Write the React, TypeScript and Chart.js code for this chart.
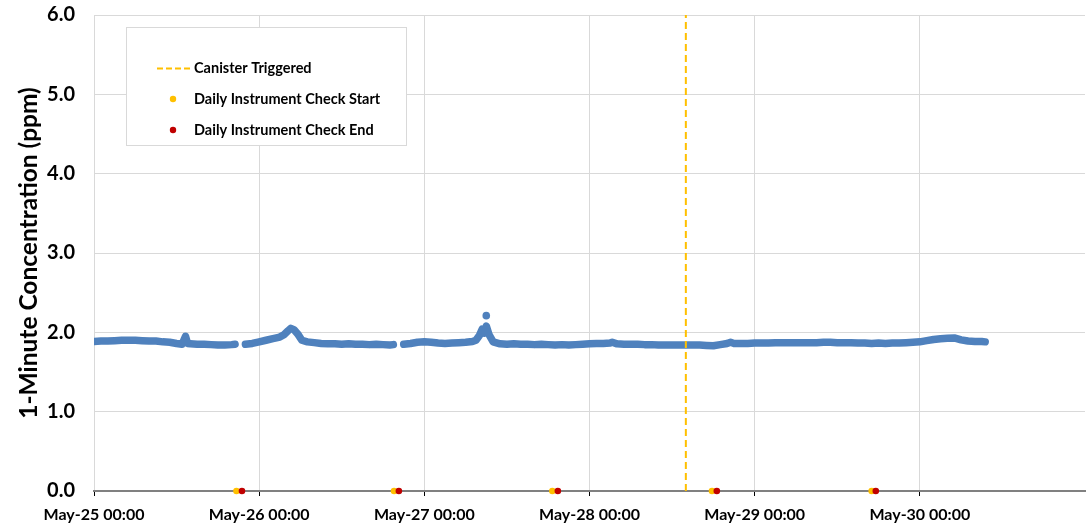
import React, { useEffect, useRef } from 'react';
import Chart from 'chart.js/auto';

// 1-minute concentration trace, sampled as hours since May-25 00:00 (null = data break)
const hours = [
  0, 1, 2, 3, 4, 5, 6, 7, 8, 9, 10, 11, 12, 12.8, 13.3, 13.6, 14, 15, 16, 17, 18, 19, 20, 20.5,
  21.2,
  22, 23, 24, 25, 26, 27, 27.6, 28.2, 28.6, 29.1, 29.6, 30.2, 31, 32, 33, 34, 35, 36, 37, 38, 39, 40, 41, 42, 43, 43.5,
  44.2,
  45, 46, 47, 48, 49, 50, 51, 52, 53, 54, 55, 55.5, 56, 56.4, 56.7, 57, 57.4, 58, 59, 60, 61, 62, 63, 64, 65, 66,
  67, 68, 69, 70, 71, 72, 73, 74, 75, 75.3, 76, 77, 78, 79, 80, 81, 82, 83, 84, 85, 86, 87, 88, 89, 90, 91, 92,
  92.5, 93, 94, 95, 96, 97, 98, 99, 100, 101, 102, 103, 104, 105, 106, 107, 108, 109, 110, 111, 112, 113, 114,
  115, 116, 117, 118, 119, 120, 121, 122, 123, 124, 125, 126, 127, 128, 129, 129.5,
];
const ppm = [
  1.885, 1.89, 1.89, 1.895, 1.9, 1.9, 1.9, 1.895, 1.89, 1.89, 1.88, 1.875, 1.86, 1.85, 1.95, 1.86, 1.855, 1.85, 1.85, 1.845, 1.84, 1.84, 1.845, 1.85,
  null,
  1.85, 1.86, 1.88, 1.9, 1.92, 1.94, 1.97, 2.02, 2.05, 2.03, 1.98, 1.9, 1.88, 1.87, 1.86, 1.855, 1.855, 1.85, 1.855, 1.85, 1.85, 1.845, 1.85, 1.845, 1.84, 1.845,
  null,
  1.85, 1.86, 1.875, 1.88, 1.875, 1.865, 1.86, 1.865, 1.87, 1.875, 1.885, 1.9, 1.96, 2.04, 1.99, 2.08, 1.97, 1.88, 1.855, 1.85, 1.855, 1.85, 1.85, 1.845, 1.85, 1.845,
  1.84, 1.845, 1.84, 1.845, 1.85, 1.855, 1.86, 1.86, 1.865, 1.875, 1.855, 1.85, 1.85, 1.85, 1.845, 1.845, 1.84, 1.84, 1.84, 1.84, 1.84, 1.84, 1.84, 1.835, 1.83, 1.845, 1.86,
  1.875, 1.86, 1.86, 1.86, 1.865, 1.865, 1.865, 1.87, 1.87, 1.87, 1.87, 1.87, 1.87, 1.87, 1.875, 1.875, 1.87, 1.87, 1.87, 1.865, 1.865, 1.86, 1.865,
  1.86, 1.865, 1.865, 1.87, 1.875, 1.88, 1.895, 1.91, 1.92, 1.925, 1.93, 1.905, 1.89, 1.885, 1.885, 1.88,
];

// isolated high reading during the May-27 excursion
const outlierHours = [57.0];
const outlierPpm = [2.21];

// daily instrument check windows (hours since May-25 00:00)
const checkStartHours = [20.7, 43.6, 66.6, 89.8, 113.0];
const checkEndHours = [21.5, 44.3, 67.4, 90.5, 113.6];

// canister trigger time (hours since May-25 00:00)
const canisterHours = [86.0];

const dayLabels = ['May-25 00:00', 'May-26 00:00', 'May-27 00:00', 'May-28 00:00', 'May-29 00:00', 'May-30 00:00'];
const legendLabels = ['Canister Triggered', 'Daily Instrument Check Start', 'Daily Instrument Check End'];

const BLUE = '#4F81BD';
const ORANGE = '#FFC000';
const RED = '#C00000';
const FONT = 'Lato, "Open Sans", sans-serif';

const legendBox = {
  id: 'legendBox',
  afterDatasetsDraw(chart: any) {
    const ctx = chart.ctx;
    ctx.save();
    ctx.fillStyle = '#ffffff';
    ctx.fillRect(126.5, 27.5, 280, 118);
    ctx.strokeStyle = '#d9d9d9';
    ctx.lineWidth = 1;
    ctx.strokeRect(126.5, 27.5, 280, 118);

    ctx.font = `bold 14.5px ${FONT}`;
    ctx.fillStyle = '#000';
    ctx.textBaseline = 'middle';
    ctx.textAlign = 'left';

    // dashed line item
    ctx.strokeStyle = ORANGE;
    ctx.lineWidth = 2;
    ctx.setLineDash([6, 3]);
    ctx.beginPath();
    ctx.moveTo(157, 68.5);
    ctx.lineTo(192, 68.5);
    ctx.stroke();
    ctx.setLineDash([]);
    ctx.fillText(legendLabels[0], 194, 68.5);

    // point items
    const rows = [
      { y: 99, color: ORANGE, label: legendLabels[1] },
      { y: 130, color: RED, label: legendLabels[2] },
    ];
    rows.forEach((r) => {
      ctx.fillStyle = r.color;
      ctx.beginPath();
      ctx.arc(173, r.y, 3.2, 0, Math.PI * 2);
      ctx.fill();
      ctx.fillStyle = '#000';
      ctx.fillText(r.label, 194, r.y);
    });
    ctx.restore();
  },
};

export default function App() {
  const canvasRef = useRef<HTMLCanvasElement>(null);

  useEffect(() => {
    document.body.style.margin = '0';
    const canvas = canvasRef.current;
    if (!canvas) return;

    const trace = hours.map((h, i) => ({ x: h / 24, y: ppm[i] }));
    const outliers = outlierHours.map((h, i) => ({ x: h / 24, y: outlierPpm[i] }));
    const starts = checkStartHours.map((h) => ({ x: h / 24, y: 0 }));
    const ends = checkEndHours.map((h) => ({ x: h / 24, y: 0 }));
    const canister = [
      { x: canisterHours[0] / 24, y: 0 },
      { x: canisterHours[0] / 24, y: 6 },
    ];

    const chart = new Chart(canvas, {
      type: 'scatter',
      data: {
        datasets: [
          {
            label: legendLabels[2],
            data: ends,
            backgroundColor: RED,
            borderWidth: 0,
            pointRadius: 3.3,
            clip: false,
            order: 0,
          } as any,
          {
            label: legendLabels[1],
            data: starts,
            backgroundColor: ORANGE,
            borderWidth: 0,
            pointRadius: 3.3,
            clip: false,
            order: 1,
          },
          {
            label: legendLabels[0],
            type: 'line',
            data: canister,
            borderColor: ORANGE,
            borderWidth: 2,
            borderDash: [7, 4],
            pointRadius: 0,
            order: 2,
          },
          {
            label: '1-Minute Concentration',
            data: outliers,
            backgroundColor: BLUE,
            borderWidth: 0,
            pointRadius: 3.8,
            order: 3,
          },
          {
            label: '1-Minute Concentration',
            type: 'line',
            data: trace,
            borderColor: BLUE,
            borderWidth: 7.5,
            borderCapStyle: 'round',
            borderJoinStyle: 'round',
            pointRadius: 0,
            spanGaps: false,
            tension: 0,
            order: 4,
          },
        ],
      },
      options: {
        responsive: false,
        animation: false,
        events: [],
        layout: { padding: { left: 0, top: 15, right: 2, bottom: 0 } },
        plugins: { legend: { display: false }, tooltip: { enabled: false } },
        scales: {
          x: {
            type: 'linear',
            min: 0,
            max: 6,
            afterFit: (s: any) => {
              s.height = 37;
            },
            grid: { color: '#d9d9d9', tickColor: '#000', tickLength: 5, lineWidth: 1 },
            border: { display: true, color: '#808080', width: 2 },
            ticks: {
              stepSize: 1,
              autoSkip: false,
              maxRotation: 0,
              padding: 9,
              color: '#000',
              font: { family: FONT, size: 16, weight: 'bold' },
              callback: (v: any) => dayLabels[v as number] ?? null,
            },
          },
          y: {
            type: 'linear',
            min: 0,
            max: 6,
            afterFit: (s: any) => {
              s.width = 94;
              s.paddingTop = 0;
              s.paddingBottom = 0;
            },
            grid: {
              drawTicks: false,
              color: (c: any) => (c.tick && c.tick.value === 0 ? 'rgba(0,0,0,0)' : '#d9d9d9'),
            },
            border: { display: false },
            ticks: {
              stepSize: 1,
              padding: 19,
              color: '#000',
              font: { family: FONT, size: 20, weight: 'bold' },
              callback: (v: any) => Number(v).toFixed(1),
            },
            title: {
              display: true,
              text: '1-Minute Concentration (ppm)',
              color: '#000',
              font: { family: FONT, size: 24.5, weight: 'bold' },
              padding: { top: 14, bottom: 0 },
            },
          },
        },
      },
      plugins: [legendBox],
    });

    return () => chart.destroy();
  }, []);

  return (
    <div style={{ width: 1089, height: 528 }}>
      <canvas ref={canvasRef} width={1089} height={528} style={{ display: 'block' }} />
    </div>
  );
}
